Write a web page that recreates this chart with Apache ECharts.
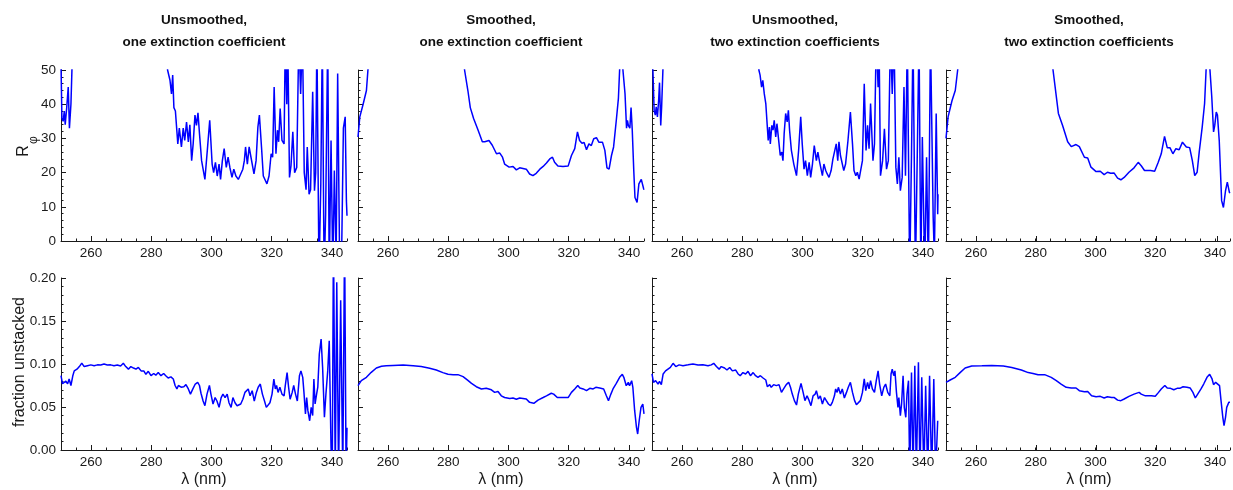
<!DOCTYPE html>
<html><head><meta charset="utf-8">
<script src="https://cdn.jsdelivr.net/npm/echarts@6/dist/echarts.min.js"></script>
<style>html,body{margin:0;padding:0;background:#fff}#c{width:1233px;height:490px}</style>
</head><body><div id="c"></div>
<script>
// ---- column titles & axis labels ----
const columnTitles = ['Unsmoothed,\none extinction coefficient','Smoothed,\none extinction coefficient','Unsmoothed,\ntwo extinction coefficients','Smoothed,\ntwo extinction coefficients'];
const xTickLabels = [260,280,300,320,340];
const xName = 'λ (nm)';
const yNameTop = 'R';
const yNameTopSub = 'φ';
const yNameBottom = 'fraction unstacked';

// ---- data: [wavelength nm, value] ----
const rUnsm1 = [[250,52],[250.3,36],[250.7,35],[251.1,38],[251.4,34],[251.9,39],[252.4,45],[252.8,33],[253.3,40],[253.8,55],[256,90],[260,160],[265,240],[270,280],[275,220],[280,130],[284.5,70],[285.4,50],[286.2,47],[286.7,43],[287.1,48.5],[287.5,39],[288.0,38],[288.8,28.4],[289.3,33],[290.0,27.5],[290.6,33],[291.1,29.4],[291.7,34.8],[292.3,29],[292.8,34],[293.4,23.5],[293.9,28.4],[294.5,36.8],[295.0,33.8],[295.5,37.5],[296.0,31.4],[296.7,23.5],[297.8,18],[298.6,26.5],[299.4,35.3],[300.2,22.5],[300.7,20],[301.3,23],[301.9,19],[302.5,22.5],[303.0,18],[303.6,23.5],[304.2,27],[304.9,21.5],[305.5,24.5],[306.1,21.5],[306.8,18.6],[307.4,21],[308.1,19],[308.9,18],[309.7,19.6],[310.4,21],[310.9,23.5],[311.3,27.5],[311.9,22.5],[312.5,27.5],[313.0,25],[313.6,24.5],[314.1,19.6],[314.8,23.5],[315.4,33.3],[315.9,36.8],[316.6,27.5],[317.2,19],[317.8,18.6],[318.4,16.7],[319.1,19],[319.8,25.5],[320.3,24.5],[320.8,45],[321.4,25.5],[321.9,32.4],[322.3,29],[322.8,38.7],[323.4,29.4],[324.1,28.4],[324.5,60],[325.0,40],[325.3,60],[325.9,18.6],[326.4,22],[327.0,31.9],[327.6,20],[328.3,21.5],[329.0,60],[329.6,43],[330.2,60],[330.8,20],[331.4,15],[331.8,27.5],[332.4,13.7],[332.9,15],[333.6,43.6],[334.2,14.7],[334.6,20],[335.0,60],[335.7,-10],[336.3,16.7],[336.8,60],[337.4,-10],[337.9,7.8],[338.6,60],[339.1,-10],[339.7,29.4],[340.3,-10],[340.8,20.6],[341.4,-5],[341.9,49],[342.6,-10],[343.2,-5],[343.8,33],[344.4,36.3],[344.8,11.8],[345,7.4]];

const rSm1 = [[250,30.4],[250.6,36.3],[251.7,40],[252.8,44],[253.3,50],[254.5,60],[260,120],[270,200],[280,120],[284,65],[285.4,50],[286.5,44],[287.3,39],[288.4,35.8],[289.9,32.4],[291.3,29],[292.1,29],[293.5,29.4],[294.6,28],[296,25.5],[297.1,25.7],[298,24.5],[298.7,22.5],[300.2,21.6],[301.5,21.8],[302.6,20.8],[303.7,21.4],[304.8,21.2],[305.9,21],[307,19.6],[308.1,19.1],[309.2,19.8],[310.4,21],[311.5,21.8],[312.6,22.8],[313.7,24],[314.6,24.5],[315.3,23],[316.4,21.9],[318.1,21.8],[319.8,21.9],[320.9,25],[322,27],[322.9,31.9],[323.6,29.4],[324.4,28.6],[325.1,28.8],[325.9,26.7],[326.7,28.4],[327.5,27.9],[328.3,29.9],[329.2,30.2],[330,28.9],[331.2,28.9],[332,26.5],[332.7,21.4],[333.4,21],[334.2,25],[334.9,27.5],[335.8,35.3],[336.5,41.7],[336.9,50],[337.5,58],[338,50],[338.7,43],[339.2,33],[339.5,35.3],[339.8,33.8],[340.3,33],[340.7,39],[341.1,32.4],[341.6,20.6],[342,12.7],[342.7,11.3],[343.3,16.7],[344.1,18],[344.9,15.2],[345,15]];

const rUnsm2 = [[250,52],[250.3,50],[250.7,38.2],[251.1,36.8],[251.4,39.2],[251.8,36.3],[252.2,41],[252.5,46.3],[252.9,33.8],[253.2,39.2],[253.7,52],[256,90],[262,170],[268,250],[274,220],[280,130],[284.5,65],[285.5,50],[285.9,48.5],[286.4,45],[286.8,47],[287.3,43],[287.8,40.2],[288.2,39.7],[288.6,29.4],[289,33.3],[289.3,28.4],[289.8,33.8],[290.2,32.4],[290.6,35.3],[291.1,30.4],[291.5,34.3],[292.2,28.4],[292.6,25],[293.1,26],[293.5,23.5],[293.9,31.4],[294.4,37.3],[294.9,34.8],[295.3,38.2],[295.7,32.4],[296.3,26.5],[297.1,22.5],[298,19.1],[298.7,26.5],[299.4,36.3],[299.9,28.4],[300.5,21],[301,23.5],[301.6,19.1],[302.2,23],[302.7,18.6],[303.3,22.5],[303.9,27.9],[304.6,23.5],[305.1,26],[305.7,23],[306.6,19.1],[307.1,22.5],[307.7,20.6],[308.2,19.6],[308.8,18.6],[309.5,20.6],[310.1,24],[310.7,24.5],[311.2,28.4],[311.7,23.5],[312.1,29],[312.6,25],[313.1,24.5],[313.7,20.6],[314.3,22.5],[315.1,29.4],[315.9,37.7],[316.6,28.4],[317.1,20.6],[317.7,19.1],[318.2,20.1],[318.8,18.1],[319.3,20.6],[319.9,23.5],[320.5,46],[321.1,26.5],[321.6,33.8],[322.1,27],[322.6,40.2],[323.4,23.5],[323.9,28.4],[324.5,60],[325.1,45],[325.4,60],[325.9,19.1],[326.6,23.5],[327.2,32.8],[327.9,21],[328.5,23.5],[329.2,60],[329.8,43],[330.4,60],[331,21.6],[331.5,16.7],[332,24.5],[332.5,14.7],[333.1,18.6],[333.7,45],[334.2,19.1],[334.8,60],[335.6,-10],[336.2,25.5],[336.7,60],[337.5,-10],[338.1,24.5],[338.7,60],[339.3,-10],[339.8,30.4],[340.6,-10],[341.2,24.5],[341.8,-10],[342.5,60],[343.4,6.9],[343.8,-5],[344.4,37.3],[344.9,7.8],[345,13.7]];

const rSm2 = [[250,30],[250.7,36.3],[252,41],[253.1,44],[253.9,50],[255,60],[262,120],[270,200],[280,120],[284.5,65],[285.8,50],[287.6,37.3],[289,33.8],[290.7,29],[291.9,27.6],[293.5,28.2],[294.6,27.6],[296.3,24.5],[297.4,24.3],[298.5,21.6],[300.2,20.3],[301.6,20.4],[302.9,19.4],[304,20.1],[305.1,19.8],[306.2,19.9],[307.4,18.4],[308.5,17.9],[309.6,18.6],[311.2,20.1],[312.9,21.4],[314.3,23],[315.3,22],[316.4,20.6],[318.4,20.6],[319.8,20.4],[321,23],[322,25.5],[323.1,30.6],[324,27.3],[324.9,27.3],[325.9,25.5],[326.9,27],[328,26.7],[329.1,28.9],[330.4,27.5],[331.5,27.3],[332.4,23.5],[333.2,19.1],[334,20.1],[334.7,26],[335.7,33.3],[336.5,40.2],[337,50],[337.6,58],[338.3,50],[338.9,42.2],[339.5,31.9],[339.9,33.8],[340.4,37.7],[340.8,36.8],[341.4,29.4],[342.2,11.8],[342.8,9.8],[343.5,14.7],[344.1,17.2],[344.8,14.2],[345,14]];

const fUnsm1 = [[250,0.0864],[250.5,0.077],[251,0.075],[251.6,0.08],[252.2,0.077],[252.7,0.0825],[253.3,0.075],[253.9,0.086],[254.4,0.092],[255.3,0.094],[256.1,0.097],[256.9,0.101],[257.7,0.097],[258.8,0.098],[259.9,0.099],[261,0.098],[262.1,0.099],[263.2,0.0988],[264.3,0.1],[265.4,0.0988],[266.5,0.099],[267.6,0.098],[268.7,0.0988],[269.8,0.0977],[270.7,0.1008],[271.5,0.097],[272.4,0.094],[273.2,0.097],[274.1,0.0953],[274.9,0.094],[275.7,0.096],[276.6,0.092],[277.5,0.092],[278.2,0.088],[279,0.0915],[279.9,0.0864],[280.8,0.089],[281.5,0.087],[282.3,0.09],[283.2,0.0864],[284.1,0.089],[284.8,0.0864],[285.6,0.0837],[286.5,0.085],[287.3,0.0825],[287.9,0.075],[288.5,0.071],[289,0.075],[289.9,0.073],[290.8,0.0736],[291.5,0.076],[292.3,0.071],[293,0.065],[293.8,0.071],[294.6,0.0767],[295.4,0.0787],[296,0.075],[296.5,0.066],[297.2,0.057],[297.8,0.0515],[298.5,0.065],[299.3,0.075],[299.8,0.065],[300.5,0.0535],[301.2,0.061],[301.8,0.057],[302.5,0.0496],[303.2,0.061],[303.8,0.065],[304.5,0.061],[305.2,0.065],[305.8,0.055],[306.5,0.0496],[307.1,0.061],[307.8,0.055],[308.5,0.0515],[309.1,0.0496],[309.7,0.0535],[310.4,0.059],[311.1,0.067],[311.7,0.065],[312.2,0.071],[312.8,0.063],[313.5,0.069],[314.2,0.057],[314.9,0.067],[315.5,0.073],[316.2,0.0767],[316.9,0.065],[317.6,0.057],[318.2,0.0496],[318.8,0.0477],[319.4,0.055],[320.1,0.065],[320.7,0.0825],[321.2,0.071],[321.6,0.075],[322.1,0.067],[322.7,0.073],[323.4,0.065],[324.1,0.063],[324.5,0.075],[325.1,0.09],[325.6,0.073],[326.1,0.059],[326.8,0.067],[327.3,0.075],[327.9,0.065],[328.5,0.057],[329.2,0.0864],[329.7,0.092],[330.3,0.0845],[330.7,0.067],[331.2,0.042],[331.6,0.061],[332,0.046],[332.6,0.034],[333.1,0.0496],[333.6,0.04],[334,0.0825],[334.4,0.0535],[334.9,0.065],[335.3,0.073],[335.8,0.1116],[336.4,0.129],[336.9,0.096],[337.5,0.038],[338,0.065],[338.6,0.092],[339.1,0.127],[339.7,0.003],[340.1,-0.03],[340.5,0.25],[341.1,-0.03],[341.6,0.195],[342.2,-0.03],[342.9,0.174],[343.6,-0.03],[344.2,0.25],[344.7,-0.03],[345,0.026]];

const fSm1 = [[250,0.0748],[251.1,0.0806],[252.8,0.0845],[254.4,0.0903],[256.1,0.0953],[257.8,0.0973],[259.4,0.098],[261.6,0.0984],[265,0.0988],[268.3,0.098],[271,0.097],[273.8,0.095],[276,0.093],[278.2,0.09],[279.9,0.088],[281.6,0.0876],[283.2,0.0876],[284.9,0.0853],[286.5,0.081],[287.7,0.0775],[289.3,0.0736],[291,0.071],[292.6,0.0717],[294.3,0.07],[295.4,0.067],[296.5,0.068],[297.6,0.063],[298.7,0.061],[300.4,0.06],[301.5,0.0605],[302.6,0.059],[303.7,0.0605],[304.8,0.06],[305.9,0.0593],[307,0.0554],[308.4,0.0543],[309.8,0.058],[311.5,0.061],[312.6,0.063],[314.2,0.066],[315,0.065],[316.2,0.061],[318.1,0.061],[319.8,0.061],[320.9,0.067],[322,0.071],[323,0.075],[323.7,0.072],[324.8,0.071],[325.9,0.069],[327,0.0717],[328.1,0.071],[329,0.0729],[330.3,0.0721],[331.6,0.071],[332.5,0.063],[333.2,0.0574],[334,0.065],[334.7,0.071],[335.8,0.0775],[336.9,0.0845],[337.8,0.088],[338.3,0.0845],[339.1,0.0748],[339.8,0.0787],[340.2,0.0748],[340.9,0.0806],[341.3,0.0729],[341.9,0.0457],[342.5,0.0264],[342.9,0.0186],[343.4,0.034],[344,0.0496],[344.6,0.0535],[345,0.042]];

const fUnsm2 = [[250,0.0884],[250.5,0.0787],[251.2,0.0806],[252,0.0767],[252.5,0.0798],[253.1,0.076],[253.7,0.0884],[254.5,0.092],[255.3,0.094],[256.1,0.096],[257,0.1008],[257.9,0.097],[259,0.099],[260.3,0.098],[262,0.099],[263.6,0.1],[265.3,0.0988],[266.9,0.099],[268.6,0.098],[269.7,0.099],[270.5,0.1008],[271.4,0.097],[272.3,0.094],[273,0.097],[274.1,0.0953],[274.9,0.093],[275.8,0.096],[276.7,0.092],[277.8,0.093],[278.6,0.0884],[279.3,0.0864],[280.2,0.09],[281.1,0.0884],[281.9,0.0915],[282.7,0.0864],[283.6,0.09],[284.4,0.0864],[285.2,0.0845],[286,0.0864],[286.9,0.0837],[287.8,0.0814],[288.3,0.0736],[289.1,0.076],[289.6,0.0729],[290.4,0.076],[291.3,0.0748],[292.2,0.076],[293,0.067],[293.7,0.071],[294.6,0.076],[295.4,0.0787],[296,0.0729],[296.6,0.065],[297.3,0.0574],[298,0.0523],[298.6,0.065],[299.5,0.0775],[300.2,0.067],[300.8,0.0574],[301.5,0.063],[302.2,0.0574],[302.8,0.0515],[303.5,0.063],[304.2,0.065],[304.6,0.069],[305.3,0.0593],[305.9,0.063],[306.6,0.0535],[307.3,0.061],[307.9,0.0574],[308.6,0.0535],[309.3,0.0515],[309.9,0.0554],[310.6,0.063],[311,0.071],[311.5,0.067],[311.9,0.0729],[312.6,0.065],[313.2,0.071],[313.9,0.0605],[314.6,0.067],[315.2,0.0729],[315.9,0.0787],[316.6,0.067],[317.3,0.0574],[317.9,0.0527],[318.5,0.0504],[319.2,0.0574],[319.9,0.067],[320.5,0.0826],[321,0.069],[321.6,0.0787],[322.1,0.071],[322.6,0.0806],[323.2,0.071],[323.9,0.067],[324.5,0.0806],[325.1,0.092],[325.6,0.0767],[326.3,0.063],[327,0.0729],[327.6,0.0767],[328.3,0.067],[329,0.063],[329.4,0.0884],[329.8,0.094],[330.3,0.0864],[330.7,0.092],[331.2,0.067],[331.7,0.0496],[332,0.061],[332.5,0.04],[332.9,0.0535],[333.4,0.0864],[333.8,0.0496],[334.3,0.038],[334.7,0.065],[335.2,0.0806],[335.6,-0.03],[336.2,0.09],[336.7,-0.03],[337.3,0.098],[337.8,-0.03],[338.5,0.102],[339,-0.03],[339.6,0.0845],[340.3,-0.03],[340.9,0.0748],[341.6,-0.03],[342.2,0.0864],[342.9,-0.03],[343.6,0.0826],[344.2,-0.03],[344.9,0.034],[345,0.034]];

const fSm2 = [[250,0.0787],[251.4,0.0814],[253.1,0.0845],[254.8,0.0903],[256.4,0.0953],[258.6,0.0977],[262,0.098],[265.3,0.0984],[269.2,0.0977],[272,0.096],[275.2,0.093],[277.5,0.09],[279.1,0.089],[280.8,0.0876],[283,0.0876],[285.2,0.0845],[286.9,0.0806],[288.5,0.0767],[290.2,0.0729],[291.9,0.0721],[293.5,0.0721],[294.6,0.069],[296.3,0.0678],[297.4,0.068],[298.7,0.063],[300.2,0.062],[301.6,0.0624],[302.9,0.0605],[304,0.062],[305.4,0.061],[306.3,0.061],[307.4,0.058],[308.5,0.0574],[309.6,0.0593],[311.2,0.0624],[312.9,0.065],[314.6,0.067],[315.3,0.065],[316.7,0.063],[318.7,0.063],[320,0.0624],[321.1,0.067],[322,0.071],[323.2,0.075],[324,0.072],[325.1,0.0717],[326.2,0.07],[327.3,0.0717],[328.2,0.0717],[329.3,0.0736],[330.6,0.0729],[331.7,0.072],[332.6,0.067],[333.4,0.0605],[334.2,0.065],[335.3,0.071],[336.2,0.0767],[337.3,0.0845],[338.2,0.088],[339,0.0826],[339.5,0.076],[340.2,0.0787],[340.8,0.0806],[341.5,0.0748],[342,0.0574],[342.6,0.038],[343,0.0283],[343.5,0.038],[343.9,0.0496],[344.6,0.0554],[345,0.0555]];

const topSeries = [rUnsm1, rSm1, rUnsm2, rSm2];
const bottomSeries = [fUnsm1, fSm1, fUnsm2, fSm2];

// ---- layout ----
const FONT = '"Liberation Sans", Arial, sans-serif';
const TXT = '#1a1a1a';
const lefts = [61, 358, 652, 946];
const W = 286;
const rows = [{top: 70, h: 171}, {top: 278, h: 172}];
const XMIN = 250, XMAX = 345;

const grids = [], xAxes = [], yAxes = [], series = [];
function addPanel(row, col, data) {
  const L = lefts[col], r = rows[row];
  const gi = grids.length;
  grids.push({left: L, top: r.top, width: W, height: r.h});
  const isTop = row === 0;
  xAxes.push({
    type: 'value', gridIndex: gi, min: XMIN, max: XMAX, interval: 5,
    axisLine: {show: true, lineStyle: {color: TXT, width: 1}},
    axisTick: {show: true, inside: true, length: 2.5, lineStyle: {color: TXT}},
    axisLabel: {show: true, margin: 5, color: TXT, fontSize: 13.5, fontFamily: FONT,
      formatter: v => (xTickLabels.indexOf(v) >= 0 ? String(v) : '')},
    splitLine: {show: false}
  });
  yAxes.push({
    type: 'value', gridIndex: gi,
    min: 0, max: isTop ? 50 : 0.2, interval: isTop ? 10 : 0.05,
    axisLine: {show: true, onZero: false, lineStyle: {color: TXT, width: 1}},
    axisTick: {show: true, inside: true, length: 5, lineStyle: {color: TXT}},
    minorTick: {show: true, splitNumber: 5, length: 2.5, lineStyle: {color: TXT}},
    axisLabel: {show: col === 0, margin: 5, color: TXT, fontSize: 13.5, fontFamily: FONT,
      formatter: v => isTop ? String(Math.round(v)) : v.toFixed(2)},
    splitLine: {show: false}
  });
  series.push({
    type: 'line', xAxisIndex: gi, yAxisIndex: gi, data: data,
    showSymbol: false, symbol: 'none', clip: true, silent: true,
    lineStyle: {color: '#0000ff', width: 1.5}
  });
}
function addMajorTickPanel(row, col) {
  const L = lefts[col], r = rows[row];
  const pxPerNm = W / (XMAX - XMIN);
  const first = xTickLabels[0], last = xTickLabels[xTickLabels.length - 1];
  const gi = grids.length;
  grids.push({left: L + (first - XMIN) * pxPerNm, top: r.top, width: (last - first) * pxPerNm, height: r.h});
  xAxes.push({
    type: 'value', gridIndex: gi, min: first, max: last, interval: 20,
    axisLine: {show: false},
    axisTick: {show: true, inside: true, length: 5, lineStyle: {color: TXT}},
    axisLabel: {show: false}, splitLine: {show: false}
  });
  yAxes.push({type: 'value', gridIndex: gi, show: false, min: 0, max: 1});
}
for (let c = 0; c < 4; c++) { addPanel(0, c, topSeries[c]); }
for (let c = 0; c < 4; c++) { addPanel(1, c, bottomSeries[c]); }
for (let c = 0; c < 4; c++) { addMajorTickPanel(0, c); addMajorTickPanel(1, c); }

const graphics = [];
for (let c = 0; c < 4; c++) {
  graphics.push({type: 'text', x: lefts[c] + W / 2, y: 9, silent: true,
    style: {text: columnTitles[c], textAlign: 'center', textVerticalAlign: 'top',
      font: 'bold 13.5px ' + FONT, lineHeight: 22, fill: '#111'}});
  graphics.push({type: 'text', x: lefts[c] + W / 2, y: 480, silent: true,
    style: {text: xName, textAlign: 'center', textVerticalAlign: 'middle',
      font: '16px ' + FONT, fill: TXT}});
}
graphics.push({type: 'text', x: 24, y: 151, rotation: Math.PI / 2, silent: true,
  style: {text: yNameTop, textAlign: 'center', textVerticalAlign: 'middle', font: '16px ' + FONT, fill: TXT}});
graphics.push({type: 'text', x: 34, y: 140, rotation: Math.PI / 2, silent: true,
  style: {text: yNameTopSub, textAlign: 'center', textVerticalAlign: 'middle', font: '12px ' + FONT, fill: TXT}});
graphics.push({type: 'text', x: 20, y: 362, rotation: Math.PI / 2, silent: true,
  style: {text: yNameBottom, textAlign: 'center', textVerticalAlign: 'middle', font: '16px ' + FONT, fill: TXT}});

const chart = echarts.init(document.getElementById('c'), null, {renderer: 'canvas'});
chart.setOption({
  animation: false,
  backgroundColor: '#fff',
  grid: grids, xAxis: xAxes, yAxis: yAxes, series: series,
  graphic: graphics
});
</script>
</body></html>
